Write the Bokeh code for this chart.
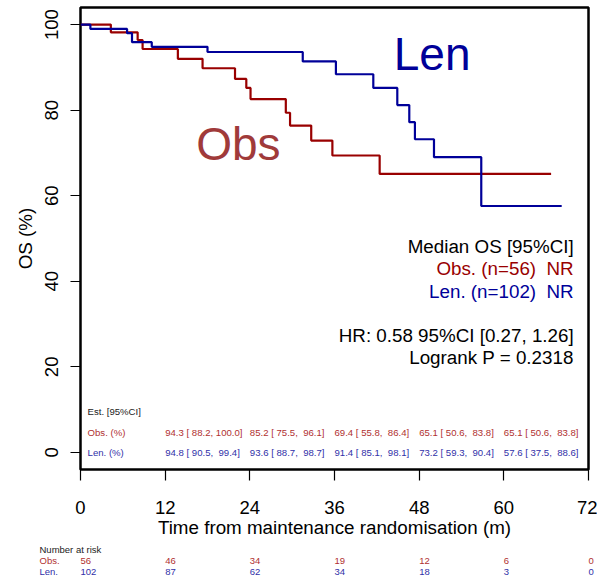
from bokeh.plotting import figure
from bokeh.models import Range1d, FixedTicker
from bokeh.layouts import column
from bokeh.core.properties import value
from bokeh.embed import file_html
from bokeh.resources import INLINE

# ---- data ----
obs_t = [0, 4.3, 8.1, 8.8, 13.8, 17.3, 21.9, 23.5, 24.1, 29.1, 29.7, 32.7, 35.7, 42.4, 66.7]
obs_s = [100, 98.2, 96.4, 94.3, 92.0, 89.8, 87.3, 85.2, 82.6, 79.4, 76.4, 72.9, 69.4, 65.1, 65.1]
len_t = [0, 1.4, 6.6, 7.3, 10.1, 18.0, 31.5, 36.2, 41.5, 44.9, 46.6, 47.4, 50.1, 56.8, 68.2]
len_s = [100, 99.0, 98.0, 95.9, 94.8, 93.6, 91.4, 88.4, 85.2, 81.2, 77.2, 73.2, 69.0, 57.6, 57.6]

x_ticks = [0, 12, 24, 36, 48, 60, 72]
y_ticks = [0, 20, 40, 60, 80, 100]

est_times = [12, 24, 36, 48, 60]
NB = "\u00a0"
obs_est = ["94.3 [" + NB + "88.2, 100.0]", "85.2 [" + NB + "75.5, " + NB + "96.1]",
           "69.4 [" + NB + "55.8, " + NB + "86.4]", "65.1 [" + NB + "50.6, " + NB + "83.8]",
           "65.1 [" + NB + "50.6, " + NB + "83.8]"]
len_est = ["94.8 [" + NB + "90.5, " + NB + "99.4]", "93.6 [" + NB + "88.7, " + NB + "98.7]",
           "91.4 [" + NB + "85.1, " + NB + "98.1]", "73.2 [" + NB + "59.3, " + NB + "90.4]",
           "57.6 [" + NB + "37.5, " + NB + "88.6]"]

risk_times = [0, 12, 24, 36, 48, 60, 72]
obs_risk = [56, 46, 34, 19, 12, 6, 0]
len_risk = [102, 87, 62, 34, 18, 3, 0]

info_lines = ["Median OS [95%CI]", "Obs. (n=56) " + NB + "NR", "Len. (n=102) " + NB + "NR",
              "HR: 0.58 95%CI [0.27, 1.26]", "Logrank P = 0.2318"]

# ---- styling / layout constants ----
FONT = "Liberation Sans"
RED = "#990000"
BLUE = "#000099"
RED_T = "#b03030"
BLUE_T = "#3030a8"
SMALL = "9.6px"

W = 597
H_MAIN = 543
H_RISK = 34
B_LEFT, B_RIGHT, B_TOP = 80, 9, 7
B_BOTTOM = H_MAIN - 469
X0, X1 = 0, 72

p = figure(width=W, height=H_MAIN, output_backend="svg", toolbar_location=None,
           x_range=Range1d(X0, X1), y_range=Range1d(-4, 104),
           min_border_left=B_LEFT, min_border_right=B_RIGHT,
           min_border_top=B_TOP, min_border_bottom=B_BOTTOM)
p.frame_align = False
p.grid.visible = False
p.outline_line_color = "black"
p.outline_line_width = 2.5
p.background_fill_color = "white"
p.border_fill_color = "white"

p.xaxis.ticker = FixedTicker(ticks=x_ticks)
p.yaxis.ticker = FixedTicker(ticks=y_ticks)
for ax in (p.xaxis, p.yaxis):
    ax.axis_line_color = None
    ax.major_tick_in = 0
    ax.minor_tick_line_color = None
    ax.major_tick_line_color = "black"
    ax.major_tick_line_width = 1.2
    ax.major_label_text_font = FONT
    ax.major_label_text_font_size = "18.5px"
    ax.major_label_text_color = "black"
    ax.axis_label_text_font = FONT
    ax.axis_label_text_font_size = "18.8px"
    ax.axis_label_text_font_style = "normal"
    ax.axis_label_text_color = "black"
p.xaxis.major_tick_out = 11
p.xaxis.major_label_standoff = 20
p.xaxis.axis_label_standoff = 0
p.xaxis.axis_label = "Time from maintenance randomisation (m)"
p.yaxis.major_tick_out = 10
p.yaxis.major_label_orientation = "vertical"
p.yaxis.major_label_standoff = 12
p.yaxis.axis_label_standoff = 7
p.yaxis.axis_label = "OS (%)"

# ---- curves ----
p.step(obs_t, obs_s, mode="after", line_color=RED, line_width=2.2)
p.step(len_t, len_s, mode="after", line_color=BLUE, line_width=2.2)

# ---- big labels ----
p.text(x=[44.4], y=[93.1], text=["Len"], text_color=BLUE, text_font=value(FONT),
       text_font_size="46px", text_baseline="middle", text_align="left")
p.text(x=[16.4], y=[72.1], text=["Obs"], text_color="#a03a3a", text_font=value(FONT),
       text_font_size="46px", text_baseline="middle", text_align="left")

# ---- info block ----
info_y = [48.2, 43.0, 37.6, 27.3, 22.2]
info_col = ["black", RED, BLUE, "black", "black"]
p.text(x=[69.9] * len(info_lines), y=info_y, text=info_lines, text_color=info_col,
       text_font=value(FONT), text_font_size="18.8px", text_align="right",
       text_baseline="middle")

# ---- estimate table inside the plot ----
row_hdr, row_obs, row_len = 9.6, 4.7, 0.0
p.text(x=[1.0, 1.0, 1.0], y=[row_hdr, row_obs, row_len],
       text=["Est. [95%CI]", "Obs. (%)", "Len. (%)"], text_color=["#222222", RED_T, BLUE_T],
       text_font=value(FONT), text_font_size=SMALL, text_align="left", text_baseline="middle")
p.text(x=est_times, y=[row_obs] * len(est_times), text=obs_est, text_color=RED_T,
       text_font=value(FONT), text_font_size=SMALL, text_align="left", text_baseline="middle")
p.text(x=est_times, y=[row_len] * len(est_times), text=len_est, text_color=BLUE_T,
       text_font=value(FONT), text_font_size=SMALL, text_align="left", text_baseline="middle")

# ---- number at risk table: second figure sharing the same time scale ----
px_per = (W - B_LEFT - B_RIGHT) / (X1 - X0)
r = figure(width=W, height=H_RISK, output_backend="svg", toolbar_location=None,
           x_range=Range1d(X0 - B_LEFT / px_per, X1 + B_RIGHT / px_per),
           y_range=Range1d(H_RISK, 0),
           x_axis_location=None, y_axis_location=None, min_border=0)
r.frame_align = False
r.grid.visible = False
r.outline_line_color = None
r.background_fill_color = "white"
r.border_fill_color = "white"

lab_x = X0 - 41 / px_per
ry_hdr, ry_obs, ry_len = 5.8, 17.3, 28.3
r.text(x=[lab_x] * 3, y=[ry_hdr, ry_obs, ry_len], text=["Number at risk", "Obs.", "Len."],
       text_color=["#222222", RED_T, BLUE_T], text_font=value(FONT), text_font_size="9.5px",
       text_align="left", text_baseline="middle")
r.text(x=risk_times, y=[ry_obs] * len(risk_times), text=[str(v) for v in obs_risk],
       text_color=RED_T, text_font=value(FONT), text_font_size="9.5px",
       text_align="left", text_baseline="middle")
r.text(x=risk_times, y=[ry_len] * len(risk_times), text=[str(v) for v in len_risk],
       text_color=BLUE_T, text_font=value(FONT), text_font_size="9.5px",
       text_align="left", text_baseline="middle")

layout = column(p, r, spacing=0)
open("out.html", "w").write(file_html(layout, INLINE))
